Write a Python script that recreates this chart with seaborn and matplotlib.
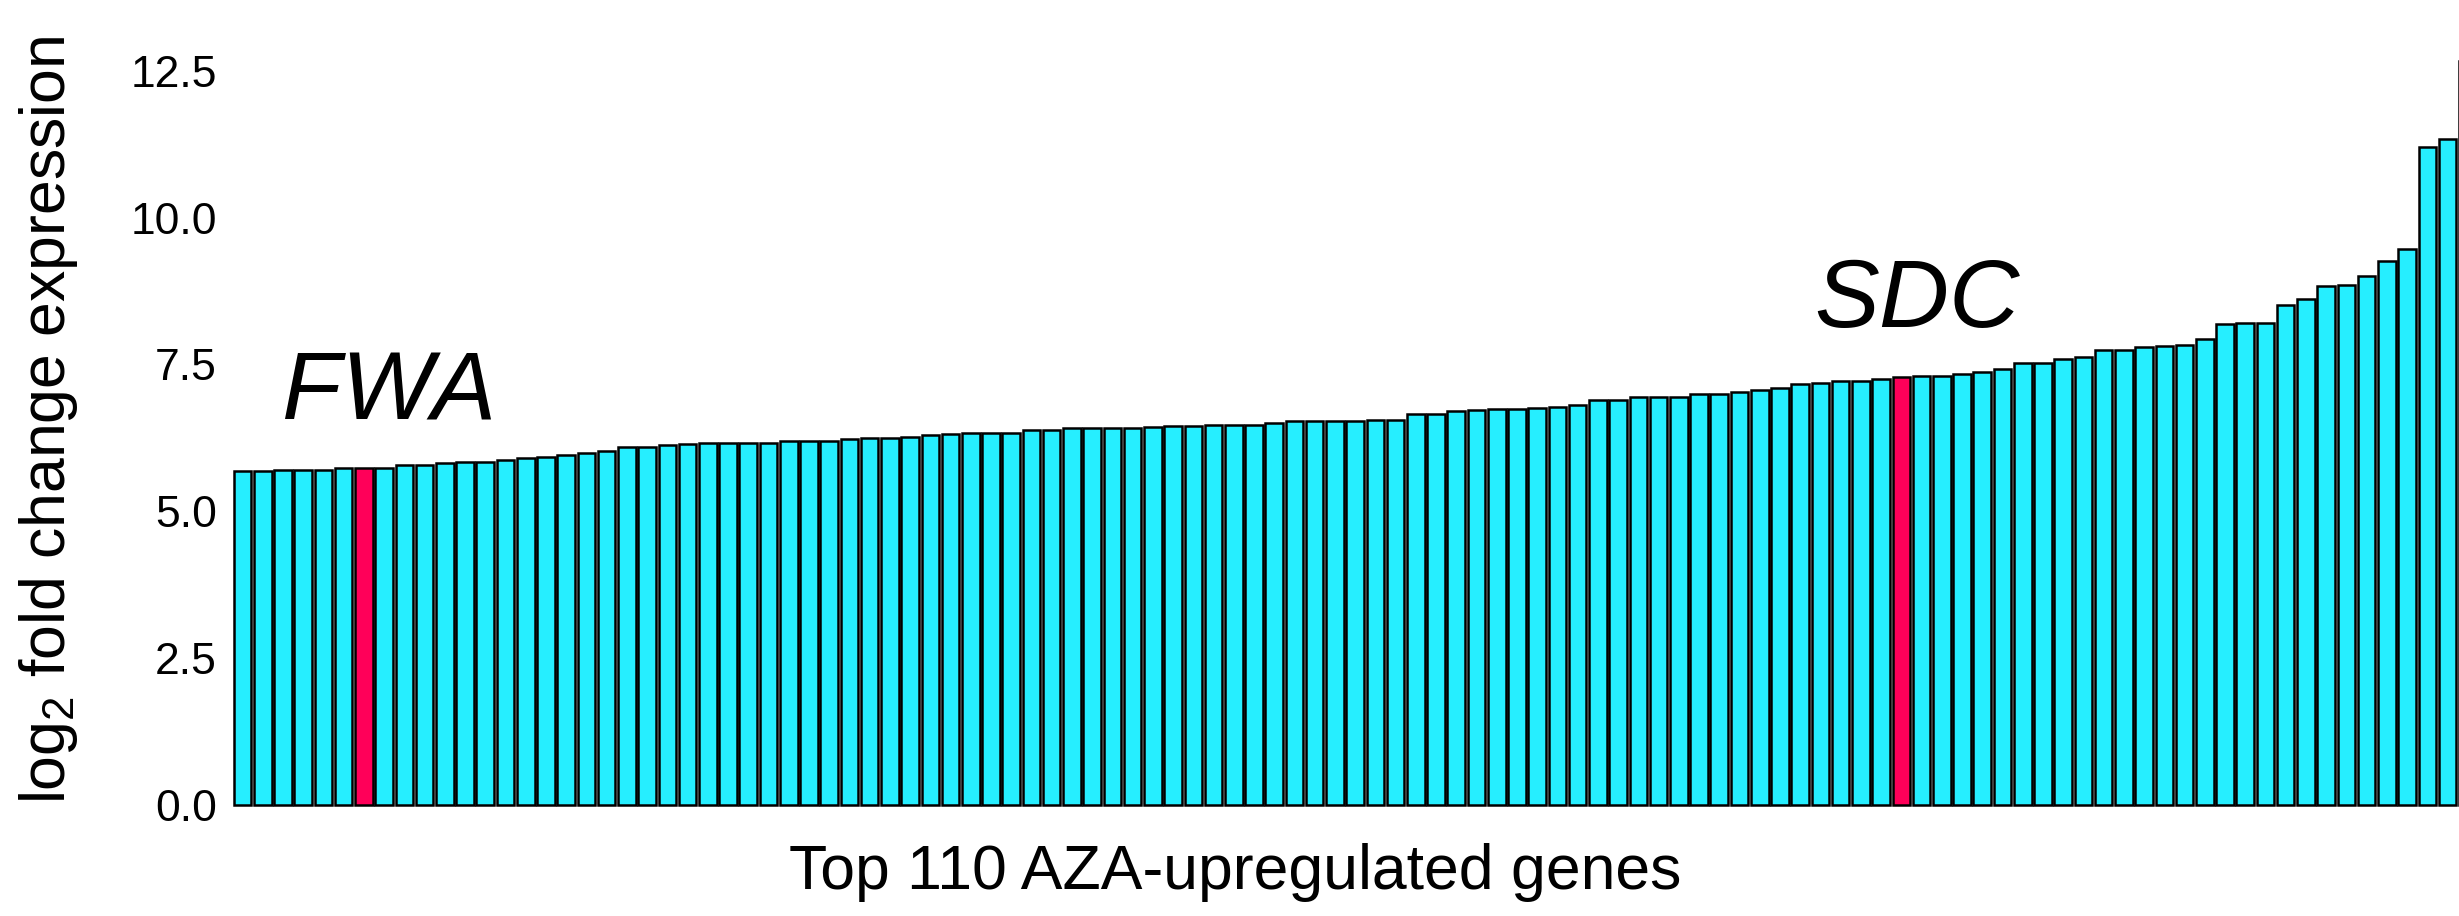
import matplotlib
matplotlib.use("Agg")
import matplotlib.pyplot as plt
import seaborn as sns
import pandas as pd

# ---- data (sorted log2 fold change, 111 bars) ----
log2fc = [
    5.68, 5.69, 5.70, 5.70, 5.71, 5.73, 5.73, 5.73, 5.78, 5.79,
    5.82, 5.83, 5.83, 5.87, 5.90, 5.93, 5.95, 5.99, 6.03, 6.09,
    6.10, 6.13, 6.15, 6.16, 6.17, 6.17, 6.17, 6.19, 6.19, 6.20,
    6.23, 6.24, 6.25, 6.26, 6.30, 6.31, 6.34, 6.34, 6.34, 6.38,
    6.38, 6.41, 6.41, 6.42, 6.42, 6.43, 6.45, 6.45, 6.46, 6.46,
    6.47, 6.51, 6.53, 6.53, 6.53, 6.53, 6.55, 6.55, 6.65, 6.66,
    6.70, 6.72, 6.74, 6.74, 6.75, 6.78, 6.81, 6.89, 6.89, 6.94,
    6.95, 6.95, 6.99, 7.00, 7.03, 7.06, 7.10, 7.16, 7.19, 7.21,
    7.22, 7.25, 7.29, 7.31, 7.31, 7.34, 7.37, 7.43, 7.52, 7.53,
    7.60, 7.62, 7.74, 7.74, 7.80, 7.81, 7.83, 7.94, 8.19, 8.21,
    8.21, 8.51, 8.61, 8.84, 8.85, 9.01, 9.26, 9.47, 11.20, 11.33,
    12.67,
]
gene_ids = [f"gene{i + 1:03d}" for i in range(len(log2fc))]
highlight_names = ["FWA", "SDC"]
highlight_index = [6, 82]
group_labels = ["other", "highlight"]
group_colors = ["#26EEFF", "#FF0059"]
ytick_values = [0.0, 2.5, 5.0, 7.5, 10.0, 12.5]
ytick_labels = ["0.0", "2.5", "5.0", "7.5", "10.0", "12.5"]
xlabel_text = "Top 110 AZA-upregulated genes"
ylabel_text = r"log$_2$ fold change expression"

groups = [group_labels[1] if i in highlight_index else group_labels[0]
          for i in range(len(log2fc))]
df = pd.DataFrame({"gene": gene_ids, "log2fc": log2fc, "group": groups})

sns.set_theme(style="white")
plt.rcParams["font.family"] = ["Liberation Sans", "DejaVu Sans"]
plt.rcParams["mathtext.fontset"] = "custom"
plt.rcParams["mathtext.rm"] = "Liberation Sans"
plt.rcParams["mathtext.it"] = "Liberation Sans:italic"
for key in ["text.color", "axes.labelcolor", "xtick.color", "ytick.color"]:
    plt.rcParams[key] = "black"

W, H = 2459, 916
fig = plt.figure(figsize=(W / 100, H / 100), dpi=100)
fig.patch.set_facecolor("white")

# axes geometry (pixels): left 232.4, width 2247.5, bottom at y=807.9, top 0
ax = fig.add_axes([232.4 / W, (H - 807.9) / H, 2247.5 / W, 807.7 / H])

sns.barplot(data=df, x="gene", y="log2fc", hue="group", order=gene_ids,
            hue_order=group_labels,
            palette=dict(zip(group_labels, group_colors)),
            dodge=False, width=0.87, saturation=1, edgecolor="black",
            linewidth=1.8, legend=False, ax=ax)

ax.set_xlim(-0.5, 110.6)
ax.set_ylim(-0.05, 13.70)
for s in ax.spines.values():
    s.set_visible(False)
ax.set_xticks([])
ax.set_yticks(ytick_values)
ax.set_yticklabels(ytick_labels, fontsize=32, color="black")
ax.tick_params(axis="y", length=0, pad=11, colors="black")

ax.set_xlabel(xlabel_text, fontsize=45, color="black")
ax.xaxis.set_label_coords((1235 - 232.4) / 2247.5, -0.043)
ax.set_ylabel(ylabel_text, fontsize=45, color="black")
ax.yaxis.set_label_coords((80 - 232.4) / 2247.5, 0.48)

# gene name annotations above the highlighted bars
offsets_x = [1.25, 0.75]
text_y = [6.57, 8.14]
for name, idx, dx, ty in zip(highlight_names, highlight_index, offsets_x, text_y):
    ax.text(idx + dx, ty, name, fontsize=70, style="italic", color="black",
            ha="center", va="baseline")

fig.savefig("out.png", dpi=100, facecolor="white")
